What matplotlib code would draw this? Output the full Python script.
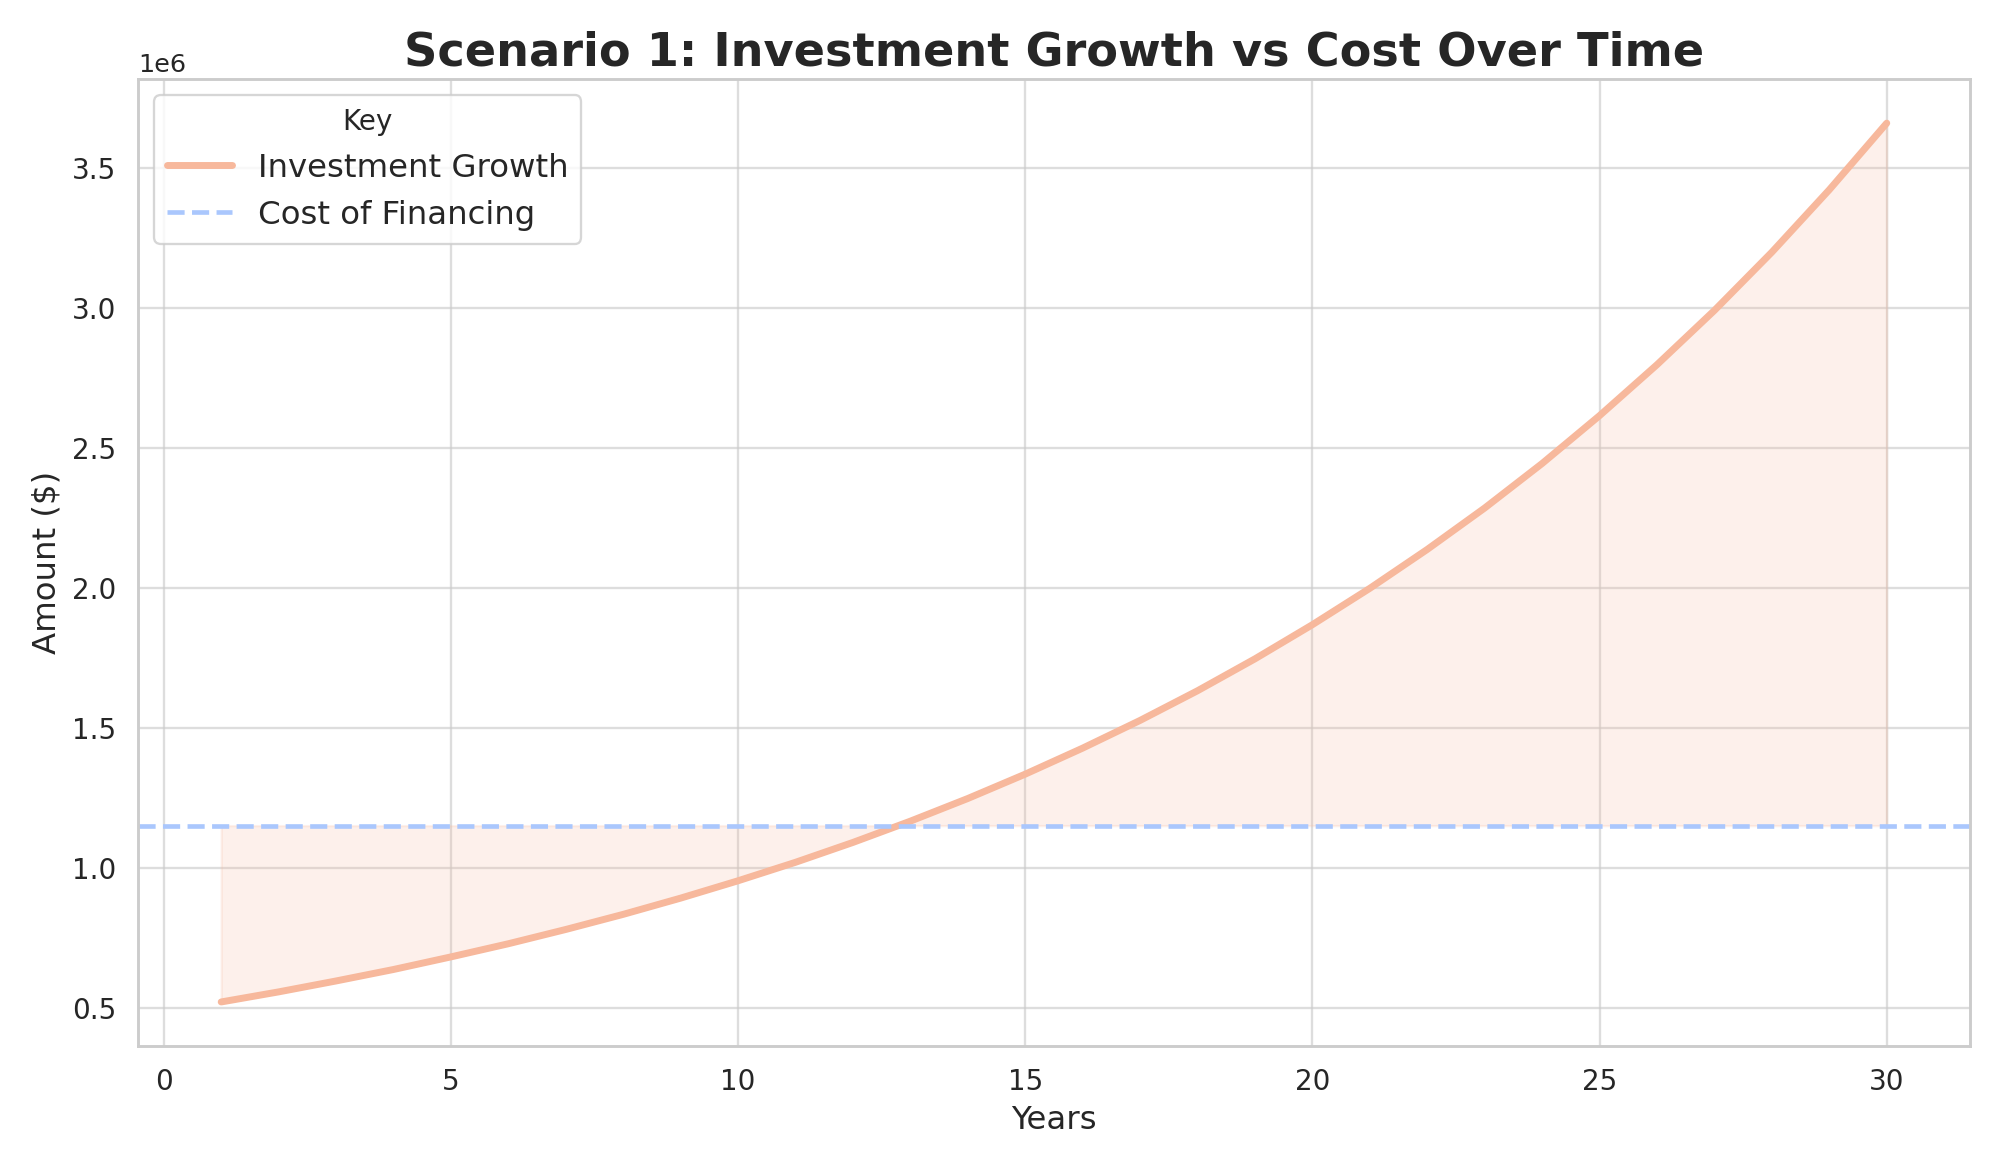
import matplotlib
matplotlib.use("Agg")
import matplotlib.pyplot as plt
import seaborn as sns
import numpy as np

# years and investment value (dollars)
years = list(range(1, 31))
investment = [520000, 556000, 595000, 636000, 681000, 728000, 779000, 833000,
              891000, 953000, 1019000, 1090000, 1166000, 1247000, 1334000,
              1427000, 1526000, 1632000, 1746000, 1868000, 1998000, 2137000,
              2285000, 2444000, 2615000, 2797000, 2991000, 3199000, 3422000,
              3660000]
cost_of_financing = 1150000

sns.set_theme(style="whitegrid")
blue, orange = sns.color_palette("coolwarm", 2)

fig, ax = plt.subplots(figsize=(12, 7), dpi=1999 / 12)
fig.subplots_adjust(left=0.069, right=0.9855, top=0.932, bottom=0.103)

ax.plot(years, investment, color=orange, lw=3, label="Investment Growth")
ax.axhline(cost_of_financing, color=blue, lw=2, ls="--",
           label="Cost of Financing")
ax.fill_between(years, investment, cost_of_financing, color=orange,
                alpha=0.2)

ax.set_title("Scenario 1: Investment Growth vs Cost Over Time",
             fontsize=20, fontweight="bold")
ax.set_xlabel("Years", fontsize=14)
ax.set_ylabel("Amount ($)", fontsize=14)
ax.tick_params(labelsize=12)
ax.grid(True, alpha=0.65)
ax.legend(title="Key", loc="upper left", fontsize=14, title_fontsize=12)

fig.savefig("out.png", dpi=1999 / 12)
